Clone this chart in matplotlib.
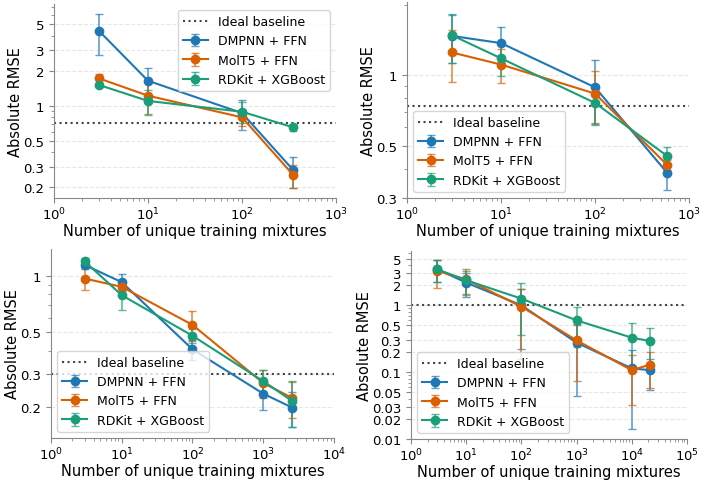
import matplotlib
matplotlib.use("Agg")
import matplotlib.pyplot as plt
from matplotlib.ticker import FixedLocator, FuncFormatter, NullFormatter

MODELS = ["DMPNN + FFN", "MolT5 + FFN", "RDKit + XGBoost"]
COLORS = ["#1f77b4", "#d95f02", "#1b9e77"]

# panel 1
x1 = [3, 10, 100, 350]
y1 = [[4.41, 1.64, 0.865, 0.28], [1.72, 1.22, 0.795, 0.254], [1.51, 1.10, 0.888, 0.652]]
e1 = [[1.70, 0.46, 0.25, 0.085], [0.15, 0.37, 0.12, 0.057], [0.06, 0.26, 0.18, 0.05]]
base1 = 0.71

# panel 2
x2 = [3, 10, 100, 585]
y2 = [[1.47, 1.37, 0.888, 0.384], [1.25, 1.11, 0.835, 0.415], [1.48, 1.18, 0.762, 0.453]]
e2 = [[0.34, 0.23, 0.27, 0.06], [0.31, 0.18, 0.21, 0.02], [0.35, 0.19, 0.15, 0.04]]
base2 = 0.736

# panel 3
x3 = [3, 10, 100, 1000, 2560]
y3 = [[1.15, 0.93, 0.406, 0.235, 0.198],
      [0.972, 0.878, 0.549, 0.268, 0.223],
      [1.20, 0.792, 0.48, 0.274, 0.215]]
e3 = [[0.05, 0.10, 0.05, 0.042, 0.043],
      [0.13, 0.03, 0.10, 0.045, 0.048],
      [0.05, 0.13, 0.04, 0.04, 0.06]]
base3 = 0.3

# panel 4
x4 = [3, 10, 100, 1000, 10000, 21600]
y4 = [[3.46, 2.19, 1.0, 0.276, 0.114, 0.107],
      [3.27, 2.45, 0.955, 0.299, 0.107, 0.13],
      [3.46, 2.37, 1.26, 0.596, 0.328, 0.292]]
e4 = [[1.25, 0.86, 0.78, 0.232, 0.10, 0.052],
      [1.45, 1.0, 0.80, 0.224, 0.075, 0.072],
      [1.25, 0.9, 0.9, 0.36, 0.21, 0.16]]
base4 = 1.0

panels = [
    dict(x=x1, y=y1, e=e1, base=base1, xlim=(1, 1e3), ylim=(0.161, 7.5),
         yticks=[0.2, 0.3, 0.5, 1, 2, 3, 5], loc="upper right",
         rect=[0.0764, 0.6036, 0.3989, 0.3865]),
    dict(x=x2, y=y2, e=e2, base=base2, xlim=(1, 1e3), ylim=(0.3, 2.05),
         yticks=[0.3, 0.5, 1], loc="lower left",
         rect=[0.5757, 0.6036, 0.3989, 0.3904]),
    dict(x=x3, y=y3, e=e3, base=base3, xlim=(1, 1e4), ylim=(0.136, 1.4),
         yticks=[0.2, 0.3, 0.5, 1], loc="lower left",
         rect=[0.0721, 0.1255, 0.4003, 0.3765]),
    dict(x=x4, y=y4, e=e4, base=base4, xlim=(1, 1e5), ylim=(0.01, 6.5),
         yticks=[0.01, 0.02, 0.03, 0.05, 0.1, 0.2, 0.3, 0.5, 1, 2, 3, 5], loc="lower left",
         rect=[0.5813, 0.1235, 0.3904, 0.3745]),
]

fig = plt.figure(figsize=(7.07, 5.02), dpi=100)

for p in panels:
    ax = fig.add_axes(p["rect"])
    ax.set_xscale("log")
    ax.set_yscale("log")
    ax.axhline(p["base"], color="#444444", linestyle=":", linewidth=1.5, label="Ideal baseline")
    for name, color, ys, es in zip(MODELS, COLORS, p["y"], p["e"]):
        line, caps, bars = ax.errorbar(p["x"], ys, yerr=es, color=color, marker="o", markersize=6,
                                       linewidth=1.5, elinewidth=1.2, capsize=3, label=name)
        for c in caps:
            c.set_alpha(0.7)
        for b in bars:
            b.set_alpha(0.7)
    ax.set_xlim(*p["xlim"])
    ax.set_ylim(*p["ylim"])
    ax.yaxis.set_major_locator(FixedLocator(p["yticks"]))
    ax.yaxis.set_major_formatter(FuncFormatter(lambda v, _: f"{v:g}"))
    ax.yaxis.set_minor_formatter(NullFormatter())
    ax.grid(axis="y", which="major", linestyle="--", color="#dddddd", linewidth=0.8, alpha=0.7)
    for side in ["top", "right"]:
        ax.spines[side].set_visible(False)
    for side in ["left", "bottom"]:
        ax.spines[side].set_color("#888888")
    ax.tick_params(which="both", colors="#888888", labelcolor="black", labelsize=9.5)
    ax.tick_params(axis="x", which="major", pad=2)
    ax.set_xlabel("Number of unique training mixtures", fontsize=10.5, labelpad=0.5)
    ax.set_ylabel("Absolute RMSE", fontsize=10.5, labelpad=0)
    ax.legend(loc=p["loc"], fontsize=9)

fig.savefig("out.png", dpi=100)
